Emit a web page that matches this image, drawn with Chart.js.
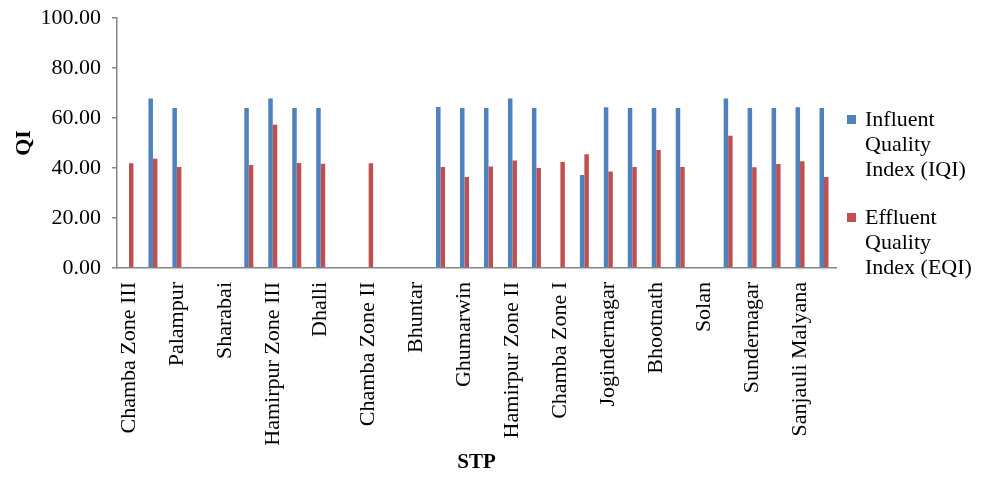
<!DOCTYPE html>
<html>
<head>
<meta charset="utf-8">
<script src="https://cdn.jsdelivr.net/npm/chart.js@4.4.1/dist/chart.umd.min.js"></script>
<style>
  html, body { margin: 0; padding: 0; background: #ffffff; }
  #wrap { width: 985px; height: 477px; }
</style>
</head>
<body>
<div id="wrap"><canvas id="qi" width="985" height="477"></canvas></div>
<script>
// Sewage treatment plants; only every second name is printed on the axis
const stpNames = [
  'Chamba Zone III', '', 'Palampur', '', 'Sharabai', '', 'Hamirpur Zone III', '',
  'Dhalli', '', 'Chamba Zone II', '', 'Bhuntar', '', 'Ghumarwin', '',
  'Hamirpur Zone II', '', 'Chamba Zone I', '', 'Jogindernagar', '', 'Bhootnath', '',
  'Solan', '', 'Sundernagar', '', 'Sanjauli Malyana', ''
];

// Influent Quality Index (null where not reported)
const iqi = [
  null, 67.8, 64.0, null, null, 64.0, 67.8, 64.0,
  64.0, null, null, null, null, 64.4, 64.0, 64.0,
  67.8, 64.0, null, 37.2, 64.3, 64.0, 64.0, 64.0,
  null, 67.8, 64.0, 64.0, 64.3, 64.0
];

// Effluent Quality Index
const eqi = [
  41.9, 43.7, 40.4, null, null, 41.2, 57.3, 42.0,
  41.7, null, 41.9, null, null, 40.4, 36.4, 40.6,
  43.0, 40.0, 42.4, 45.5, 38.6, 40.4, 47.2, 40.4,
  null, 52.9, 40.3, 41.6, 42.7, 36.4
];

const seriesNames = [
  ['Influent', 'Quality', 'Index (IQI)'],
  ['Effluent', 'Quality', 'Index (EQI)']
];

const yTicks = [0, 20, 40, 60, 80, 100];

const FONT = '"Liberation Serif", "Times New Roman", serif';
const AXIS_GREY = '#868686';
const BLUE = '#4F81BD';
const RED = '#C0504D';

// Legend with wrapped entries on the right-hand side
const sideLegend = {
  id: 'sideLegend',
  afterDraw(chart) {
    const ctx = chart.ctx;
    const x0 = chart.chartArea.right + 11;
    const starts = [120, 218];
    ctx.save();
    ctx.font = '22px ' + FONT;
    ctx.textBaseline = 'middle';
    ctx.textAlign = 'left';
    chart.data.datasets.forEach((ds, i) => {
      const y = starts[i];
      ctx.fillStyle = ds.backgroundColor;
      ctx.fillRect(x0, y - 5, 9, 9);
      ctx.fillStyle = '#000000';
      seriesNames[i].forEach((line, j) => {
        ctx.fillText(line, x0 + 18, y + j * 25);
      });
    });
    ctx.restore();
  }
};

new Chart(document.getElementById('qi'), {
  type: 'bar',
  data: {
    labels: stpNames,
    datasets: [
      { label: seriesNames[0].join(' '), data: iqi, backgroundColor: BLUE },
      { label: seriesNames[1].join(' '), data: eqi, backgroundColor: RED }
    ]
  },
  options: {
    responsive: false,
    animation: false,
    layout: { padding: { left: 0, right: 149, top: 18, bottom: 0 } },
    datasets: { bar: { barPercentage: 1.0, categoryPercentage: 0.375 } },
    plugins: {
      legend: { display: false },
      tooltip: { enabled: false }
    },
    scales: {
      x: {
        grid: { display: true, drawOnChartArea: false, drawTicks: false },
        border: { color: AXIS_GREY, width: 1.5 },
        ticks: {
          autoSkip: false,
          minRotation: 90,
          maxRotation: 90,
          padding: 14,
          color: '#000000',
          font: { family: FONT, size: 22 },
          callback: (v, i) => stpNames[i]
        },
        title: {
          display: true,
          text: 'STP',
          color: '#000000',
          font: { family: FONT, size: 21, weight: 'bold' },
          padding: { top: 10, bottom: 2 }
        },
        afterFit: (s) => { s.height = 209; s.paddingLeft = 0; s.paddingRight = 0; }
      },
      y: {
        min: 0,
        max: 100,
        afterBuildTicks: (s) => { s.ticks = yTicks.map(v => ({ value: v })); },
        grid: { display: true, drawOnChartArea: false, drawTicks: true, tickLength: 5, color: AXIS_GREY, lineWidth: 1.5 },
        border: { color: AXIS_GREY, width: 1.5 },
        ticks: {
          padding: 11,
          color: '#000000',
          font: { family: FONT, size: 22 },
          callback: (v) => Number(v).toFixed(2)
        },
        title: {
          display: true,
          text: 'QI',
          color: '#000000',
          font: { family: FONT, size: 22, weight: 'bold' },
          padding: { top: 11, bottom: 0 }
        },
        afterFit: (s) => { s.width = 117; s.paddingTop = 0; s.paddingBottom = 0; }
      }
    }
  },
  plugins: [sideLegend]
});
</script>
</body>
</html>
